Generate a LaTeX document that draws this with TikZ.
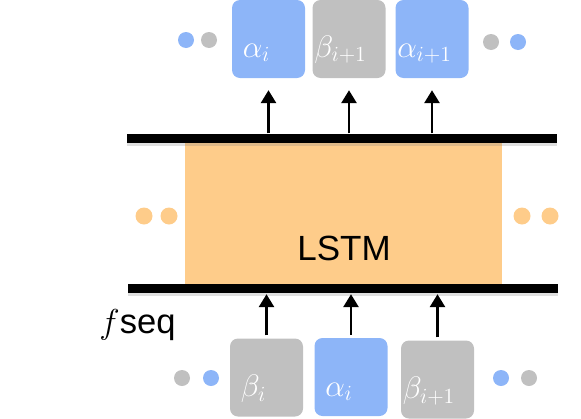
\documentclass[tikz,border=0pt]{standalone}
\usepackage{fontspec}
\setmainfont{Liberation Sans}
\usetikzlibrary{arrows.meta,shadows}

\definecolor{tokblue}{RGB}{141,181,248}
\definecolor{tokgray}{RGB}{192,192,192}
\definecolor{lstmorange}{RGB}{254,204,138}

\begin{document}
\begin{tikzpicture}[x=1pt,y=-1pt,
    tok/.style={rounded corners=8pt, minimum width=73pt, minimum height=78pt, inner sep=0pt},
    toklbl/.style={anchor=base west, inner sep=0pt, text=white, font=\LARGE, scale=1.8, transform shape},
    bar/.style={fill=black, minimum width=430pt, minimum height=9pt, inner sep=0pt,
        drop shadow={shadow xshift=0pt, shadow yshift=-3pt, opacity=0.25}},
    dot/.style={circle, inner sep=0pt, minimum size=16pt},
    up/.style={-{Triangle[width=15pt,length=13pt]}, line width=2.8pt}]
    \useasboundingbox (0,0) rectangle (581,418);

    % LSTM block
    \node[fill=lstmorange, minimum width=317pt, minimum height=142pt, inner sep=0pt] (lstm) at (343.5,213) {};
    \node[font=\fontsize{35}{42}\selectfont] (lstmtxt) at (344,248) {LSTM};
    \node[bar] (topbar) at (342,138) {};
    \node[bar] (botbar) at (343,288.5) {};
    \node[anchor=base west, inner sep=0pt, font=\LARGE, scale=2, transform shape] (fseq) at (99,333) {$f$seq};

    % output tokens
    \node[tok, fill=tokblue] (a1) at (268.5,39) {};
    \node[tok, fill=tokgray] (a2) at (349,39) {};
    \node[tok, fill=tokblue] (a3) at (432,39) {};
    \node[toklbl] (la1) at ([xshift=-26pt,yshift=-18pt]a1.center) {$\alpha_i$};
    \node[toklbl] (la2) at ([xshift=-35pt,yshift=-18pt]a2.center) {$\beta_{i+1}$};
    \node[toklbl] (la3) at ([xshift=-35pt,yshift=-18pt]a3.center) {$\alpha_{i+1}$};

    % input tokens
    \node[tok, fill=tokgray] (b1) at (266.5,377.5) {};
    \node[tok, fill=tokblue] (b2) at (351,377) {};
    \node[tok, fill=tokgray] (b3) at (437.5,379.5) {};
    \node[toklbl] (lb1) at ([xshift=-26pt,yshift=-19pt]b1.center) {$\beta_i$};
    \node[toklbl] (lb2) at ([xshift=-26pt,yshift=-19pt]b2.center) {$\alpha_i$};
    \node[toklbl] (lb3) at ([xshift=-35pt,yshift=-19pt]b3.center) {$\beta_{i+1}$};

    % dots
    \foreach \x/\y/\c [count=\i] in {186/40/tokblue, 209/40/tokgray, 491/42/tokgray, 518/42/tokblue,
        182/378/tokgray, 211/378/tokblue, 501/378/tokblue, 529/378/tokgray}
        \node[dot, fill=\c] (d\i) at (\x,\y) {};
    \foreach \x [count=\i] in {144,169,522,550}
        \node[dot, fill=lstmorange, minimum size=17pt] (o\i) at (\x,216) {};

    % arrows
    \foreach \t in {a1,a2,a3}
        \draw[up] (topbar.north -| \t.south) -- ([yshift=-12pt]\t.south);
    \foreach \t in {b1,b2,b3}
        \draw[up, shorten >=1pt] ([yshift=3pt]\t.north) -- (botbar.south -| \t.north);
\end{tikzpicture}
\end{document}
